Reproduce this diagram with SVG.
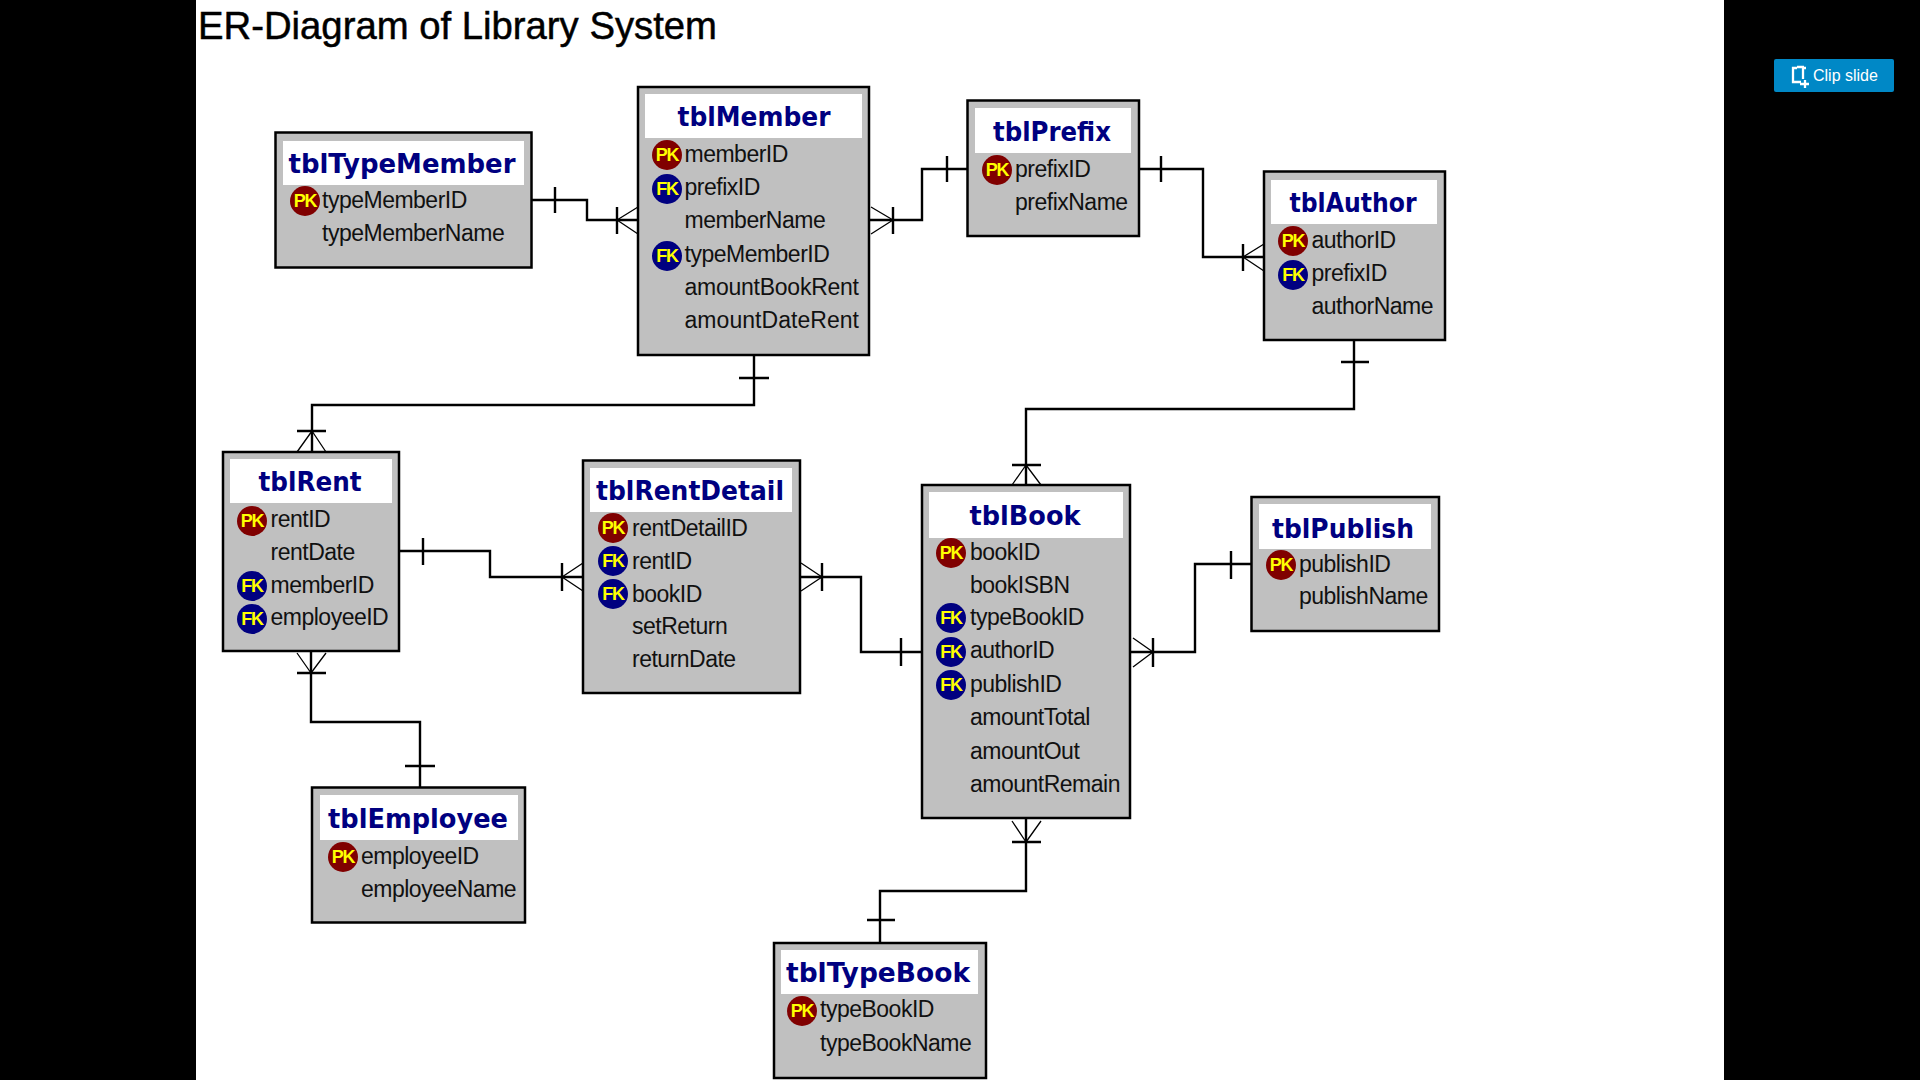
<svg xmlns="http://www.w3.org/2000/svg" width="1920" height="1080" viewBox="0 0 1920 1080">
<style>
.tb{fill:#c0c0c0;stroke:#000;stroke-width:2.5}
.hd{fill:#fff}
.t{font:bold 27px "DejaVu Sans",sans-serif;fill:#000080;text-anchor:middle}
.f{font:23px "Liberation Sans",Arial,sans-serif;fill:#111;letter-spacing:-.5px}
.pk{fill:#800000}.fk{fill:#000080}
.b{font:bold 18px "Liberation Sans",Arial,sans-serif;fill:#ffff00;text-anchor:middle;letter-spacing:-1.2px}
.c path{fill:none;stroke:#000;stroke-width:2.4}
.c path.h{stroke-width:1.3}
</style>
<rect width="1920" height="1080" fill="#000"/>
<rect x="196" y="0" width="1528" height="1080" fill="#fff"/>
<text x="198" y="39" font-family="'Liberation Sans',Arial,sans-serif" font-size="39" fill="#000" stroke="#000" stroke-width=".5" textLength="519" lengthAdjust="spacingAndGlyphs">ER-Diagram of Library System</text>
<g id="clip-slide">
<rect x="1774" y="59" width="120" height="33" rx="2" fill="#0088c6"/>
<path d="M1797 68h-4v14h8M1799 67h4M1806 68h-3V79M1800 84h9M1805 80v8M1797 67h7" fill="none" stroke="#fff" stroke-width="2.300"/>
<text x="1813" y="80.500" font-family="'Liberation Sans',Arial,sans-serif" font-size="16" fill="#fff">Clip slide</text>
</g>
<g id="connectors" class="c">
<path d="M531 200H587V220H638M555 187V213M617 207V234"/><path class="h" d="M617 220L638 207M617 220L638 234"/>
<path d="M869 220H922V169H967M947 156V182M893 207V234"/><path class="h" d="M893 220L871 207M893 220L871 234"/>
<path d="M1139 169H1203V257H1264M1161 156V182M1243 244V271"/><path class="h" d="M1243 257L1264 244M1243 257L1264 271"/>
<path d="M754 355V405H312V452M739 378H769M297 431H326"/><path class="h" d="M312 431L297 452M312 431L326 452"/>
<path d="M399 551H490V577H583M423 538V565M562 563V591"/><path class="h" d="M562 577L583 563M562 577L583 591"/>
<path d="M800 577H861V652H922M901 638V666M822 563V591"/><path class="h" d="M822 577L801 563M822 577L801 591"/>
<path d="M1026 485V409H1354V340M1341 362H1369M1012 465H1041"/><path class="h" d="M1026 465L1012 485M1026 465L1041 485"/>
<path d="M1130 652H1195V564H1251M1231 551V579M1153 638V667"/><path class="h" d="M1153 652L1133 638M1153 652L1133 667"/>
<path d="M311 651V722H420V787M405 766H435M297 673H326"/><path class="h" d="M311 673L297 653M311 673L326 653"/>
<path d="M1026 818V891H880V943M867 920H895M1012 842H1041"/><path class="h" d="M1026 842L1012 821M1026 842L1041 821"/>
</g>
<g id="tblTypeMember">
<rect class="tb" x="275.500" y="132.500" width="256" height="135"/><rect class="hd" x="283" y="141" width="241" height="44"/>
<text class="t" x="402" y="173" textLength="227" lengthAdjust="spacingAndGlyphs">tblTypeMember</text>
<circle class="pk" cx="305" cy="201" r="15"/><text class="b" x="305" y="207">PK</text>
<text class="f" x="322" y="208">typeMemberID</text>
<text class="f" x="322" y="241">typeMemberName</text>
</g>
<g id="tblMember">
<rect class="tb" x="638" y="87" width="231" height="268"/><rect class="hd" x="645" y="94" width="217" height="44"/>
<text class="t" x="754" y="126" textLength="153" lengthAdjust="spacingAndGlyphs">tblMember</text>
<circle class="pk" cx="667" cy="155" r="15"/><text class="b" x="667" y="161">PK</text>
<text class="f" x="684.500" y="162">memberID</text>
<circle class="fk" cx="667" cy="189" r="15"/><text class="b" x="667" y="195">FK</text>
<text class="f" x="684.500" y="195">prefixID</text>
<text class="f" x="684.500" y="228">memberName</text>
<circle class="fk" cx="667" cy="256" r="15"/><text class="b" x="667" y="262">FK</text>
<text class="f" x="684.500" y="262">typeMemberID</text>
<text class="f" x="684.500" y="295" textLength="174">amountBookRent</text>
<text class="f" x="684.500" y="328" textLength="174">amountDateRent</text>
</g>
<g id="tblPrefix">
<rect class="tb" x="967.500" y="100.500" width="171.500" height="135.500"/><rect class="hd" x="975" y="108" width="156" height="45"/>
<text class="t" x="1052" y="141" textLength="118" lengthAdjust="spacingAndGlyphs">tblPrefix</text>
<circle class="pk" cx="997" cy="170" r="15"/><text class="b" x="997" y="176">PK</text>
<text class="f" x="1015" y="177">prefixID</text>
<text class="f" x="1015" y="210">prefixName</text>
</g>
<g id="tblAuthor">
<rect class="tb" x="1264" y="171.500" width="181" height="168.500"/><rect class="hd" x="1271" y="180" width="166" height="44"/>
<text class="t" x="1353" y="212" textLength="127" lengthAdjust="spacingAndGlyphs">tblAuthor</text>
<circle class="pk" cx="1293" cy="241" r="15"/><text class="b" x="1293" y="247">PK</text>
<text class="f" x="1311.500" y="248">authorID</text>
<circle class="fk" cx="1293" cy="275" r="15"/><text class="b" x="1293" y="281">FK</text>
<text class="f" x="1311.500" y="281">prefixID</text>
<text class="f" x="1311.500" y="314">authorName</text>
</g>
<g id="tblRent">
<rect class="tb" x="223" y="452" width="176" height="199"/><rect class="hd" x="230" y="459" width="162" height="44"/>
<text class="t" x="310" y="491" textLength="103" lengthAdjust="spacingAndGlyphs">tblRent</text>
<circle class="pk" cx="252" cy="521" r="15"/><text class="b" x="252" y="527">PK</text>
<text class="f" x="270.500" y="527">rentID</text>
<text class="f" x="270.500" y="560">rentDate</text>
<circle class="fk" cx="252" cy="586" r="15"/><text class="b" x="252" y="592">FK</text>
<text class="f" x="270.500" y="593">memberID</text>
<circle class="fk" cx="252" cy="619" r="15"/><text class="b" x="252" y="625">FK</text>
<text class="f" x="270.500" y="625">employeeID</text>
</g>
<g id="tblRentDetail">
<rect class="tb" x="583" y="460.500" width="217" height="232.500"/><rect class="hd" x="590" y="468" width="202" height="44"/>
<text class="t" x="690" y="500" textLength="188" lengthAdjust="spacingAndGlyphs">tblRentDetail</text>
<circle class="pk" cx="613" cy="528" r="15"/><text class="b" x="613" y="534">PK</text>
<text class="f" x="632" y="536">rentDetailID</text>
<circle class="fk" cx="613" cy="561" r="15"/><text class="b" x="613" y="567">FK</text>
<text class="f" x="632" y="569">rentID</text>
<circle class="fk" cx="613" cy="594" r="15"/><text class="b" x="613" y="600">FK</text>
<text class="f" x="632" y="602">bookID</text>
<text class="f" x="632" y="634">setReturn</text>
<text class="f" x="632" y="667">returnDate</text>
</g>
<g id="tblBook">
<rect class="tb" x="922" y="485" width="208" height="333"/><rect class="hd" x="929" y="492" width="194" height="46"/>
<text class="t" x="1025" y="525" textLength="111" lengthAdjust="spacingAndGlyphs">tblBook</text>
<circle class="pk" cx="951" cy="553" r="15"/><text class="b" x="951" y="559">PK</text>
<text class="f" x="970" y="560">bookID</text>
<text class="f" x="970" y="593">bookISBN</text>
<circle class="fk" cx="951" cy="618" r="15"/><text class="b" x="951" y="624">FK</text>
<text class="f" x="970" y="625">typeBookID</text>
<circle class="fk" cx="951" cy="652" r="15"/><text class="b" x="951" y="658">FK</text>
<text class="f" x="970" y="658">authorID</text>
<circle class="fk" cx="951" cy="685" r="15"/><text class="b" x="951" y="691">FK</text>
<text class="f" x="970" y="692">publishID</text>
<text class="f" x="970" y="725">amountTotal</text>
<text class="f" x="970" y="759">amountOut</text>
<text class="f" x="970" y="792">amountRemain</text>
</g>
<g id="tblPublish">
<rect class="tb" x="1251.500" y="497" width="187.500" height="134"/><rect class="hd" x="1259" y="504" width="172" height="45"/>
<text class="t" x="1343" y="538" textLength="142" lengthAdjust="spacingAndGlyphs">tblPublish</text>
<circle class="pk" cx="1281" cy="565" r="15"/><text class="b" x="1281" y="571">PK</text>
<text class="f" x="1299" y="572">publishID</text>
<text class="f" x="1299" y="604">publishName</text>
</g>
<g id="tblEmployee">
<rect class="tb" x="312" y="787.500" width="213" height="135"/><rect class="hd" x="320" y="795" width="198" height="45"/>
<text class="t" x="418" y="828" textLength="180" lengthAdjust="spacingAndGlyphs">tblEmployee</text>
<circle class="pk" cx="343" cy="857" r="15"/><text class="b" x="343" y="863">PK</text>
<text class="f" x="361" y="864">employeeID</text>
<text class="f" x="361" y="897">employeeName</text>
</g>
<g id="tblTypeBook">
<rect class="tb" x="774" y="943" width="212" height="135"/><rect class="hd" x="781" y="950" width="197" height="44"/>
<text class="t" x="878" y="982" textLength="184" lengthAdjust="spacingAndGlyphs">tblTypeBook</text>
<circle class="pk" cx="802" cy="1011" r="15"/><text class="b" x="802" y="1017">PK</text>
<text class="f" x="820" y="1017">typeBookID</text>
<text class="f" x="820" y="1051">typeBookName</text>
</g>
</svg>
